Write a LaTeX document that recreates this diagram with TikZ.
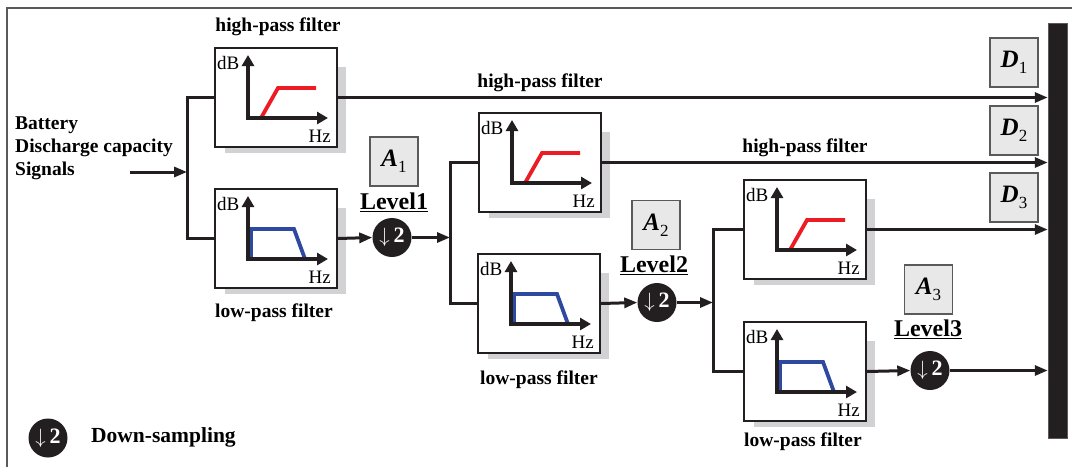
\documentclass[tikz,border=0pt]{standalone}
\usepackage{fontspec}
\setmainfont{Liberation Serif}
\usetikzlibrary{arrows.meta,calc}
\definecolor{hpred}{RGB}{237,28,36}
\definecolor{lpblue}{RGB}{46,74,160}
\definecolor{shadowgray}{RGB}{210,210,212}
\definecolor{boxgray}{RGB}{232,232,232}
\definecolor{framegray}{RGB}{90,90,90}
\definecolor{barblack}{RGB}{35,31,32}
\tikzset{
  conn/.style={line width=3pt, draw=barblack},
  arr/.style={conn, -{Triangle[length=13pt,width=10pt]}},
  fbox/.style={draw=barblack, line width=2pt, fill=white, minimum width=122pt, minimum height=99pt, anchor=north west, inner sep=0pt},
  axis/.style={line width=4pt, draw=barblack, -{Triangle[length=11pt,width=12pt]}},
  hpcurve/.style={line width=3.8pt, draw=hpred},
  lpcurve/.style={line width=3.8pt, draw=lpblue},
  axlbl/.style={inner sep=0pt, font=\fontsize{19}{20}\selectfont},
  lbl/.style={inner sep=0pt, font=\fontsize{19.5}{23}\selectfont\bfseries},
  lvl/.style={inner sep=0pt, font=\fontsize{24}{26}\selectfont\bfseries},
  ds/.style={circle, fill=barblack, minimum size=39pt, inner sep=0pt, text=white, font=\fontsize{22}{22}\selectfont\bfseries},
  abox/.style={draw=framegray, fill=boxgray, line width=1.3pt, minimum width=48pt, minimum height=49pt, inner sep=0pt, font=\fontsize{25}{26}\selectfont\bfseries\itshape},
}
\newcommand\filtbase[3]{%
  \fill[shadowgray] (#2+11,#3+20) rectangle (#2+132,#3+106);
  \node[fbox] (#1) at (#2,#3) {};
  \node[axlbl, anchor=west] (#1-db) at (#2+3,#3+16) {dB};
  \node[axlbl, anchor=east] (#1-hz) at (#2+117,#3+89) {Hz};
}
\newcommand\hpfilt[3]{%
  \filtbase{#1}{#2}{#3}
  \draw[hpcurve] (#2+47,#3+71) -- (#2+64,#3+41) -- (#2+102,#3+41);
  \draw[axis] (#2+34,#3+71) -- (#2+34,#3+8);
  \draw[axis] (#2+32,#3+71) -- (#2+114,#3+71);
}
\newcommand\lpfilt[3]{%
  \filtbase{#1}{#2}{#3}
  \draw[lpcurve] (#2+37,#3+71) -- (#2+37,#3+41) -- (#2+80,#3+41) -- (#2+91,#3+71);
  \draw[axis] (#2+34,#3+71) -- (#2+34,#3+8);
  \draw[axis] (#2+32,#3+71) -- (#2+114,#3+71);
}
\newcommand\subnum[1]{\raisebox{-6pt}{\fontsize{17}{17}\selectfont\mdseries\upshape #1}}
\begin{document}
\begin{tikzpicture}[x=1pt,y=-1pt]
\useasboundingbox (0,0) rectangle (1072,467);
% frame
\draw[framegray, line width=1.6pt] (7,467) -- (7,8) -- (1072,8);
% output bar
\node[fill=barblack, draw=framegray, line width=0.5pt, minimum width=19pt, minimum height=415pt, inner sep=0pt] (bar) at (1057.5,230.5) {};

% source text
\node[lbl, align=left, anchor=west] (src) at (15,148) {Battery\\Discharge capacity\\Signals};
\coordinate (in) at (130,172);
\coordinate (sp1) at (187,172);

% filters
\hpfilt{hp1}{214}{47}
\lpfilt{lp1}{214}{188}
\hpfilt{hp2}{478}{112}
\lpfilt{lp2}{477}{253}
\hpfilt{hp3}{743}{179}
\lpfilt{lp3}{743}{321}

% filter labels
\node[lbl] (hpl1) at (278,27) {high-pass filter};
\node[lbl] (hpl2) at (540,83) {high-pass filter};
\node[lbl] (hpl3) at (805,148) {high-pass filter};
\node[lbl] (lpl1) at (274,313) {low-pass filter};
\node[lbl] (lpl2) at (539,380) {low-pass filter};
\node[lbl] (lpl3) at (803,442) {low-pass filter};

% down-sampling
\node[ds] (ds1) at (392,237.5) {$\downarrow$\,2};
\node[ds] (ds2) at (657,302.5) {$\downarrow$\,2};
\node[ds] (ds3) at (930,370.5) {$\downarrow$\,2};
\coordinate (sp2) at (450,237.5);
\coordinate (sp3) at (713,302.5);

% levels
\node[lvl] (lv1) at (394,202) {\underline{Level1}};
\node[lvl] (lv2) at (654,265) {\underline{Level2}};
\node[lvl] (lv3) at (928,329) {\underline{Level3}};

% A boxes
\node[abox] (a1) at (394,161.5) {A\subnum{1}};
\node[abox] (a2) at (656,225) {A\subnum{2}};
\node[abox] (a3) at (928.5,289.5) {A\subnum{3}};

% D boxes
\node[abox] (dd1) at (1014,62.5) {D\subnum{1}};
\node[abox] (dd2) at (1014,130.5) {D\subnum{2}};
\node[abox] (dd3) at (1014,197.5) {D\subnum{3}};

% connectors
\draw[arr] (in) -- (sp1);
\draw[conn] (hp1.west) -| (sp1) |- (lp1.west);
\draw[arr] (lp1.east) -- (ds1.west);
\draw[arr] (ds1.east) -- (sp2);
\draw[conn] (hp2.west) -| (sp2) |- (lp2.west);
\draw[arr] (lp2.east) -- (ds2.west);
\draw[arr] (ds2.east) -- (sp3);
\draw[conn] (hp3.west) -| (sp3) |- (lp3.west);
\draw[arr] (lp3.east) -- (ds3.west);
\draw[arr] (ds3.east) -- (ds3.east -| bar.west);
\draw[arr] (hp1.east) -- (hp1.east -| bar.west);
\draw[arr] (hp2.east) -- (hp2.east -| bar.west);
\draw[arr] (hp3.east) -- (hp3.east -| bar.west);

% legend
\node[ds] (leg) at (48,438) {$\downarrow$\,2};
\node[lbl, anchor=west, font=\fontsize{21.5}{23}\selectfont\bfseries] (legtxt) at (91,437) {Down-sampling};
\end{tikzpicture}
\end{document}
